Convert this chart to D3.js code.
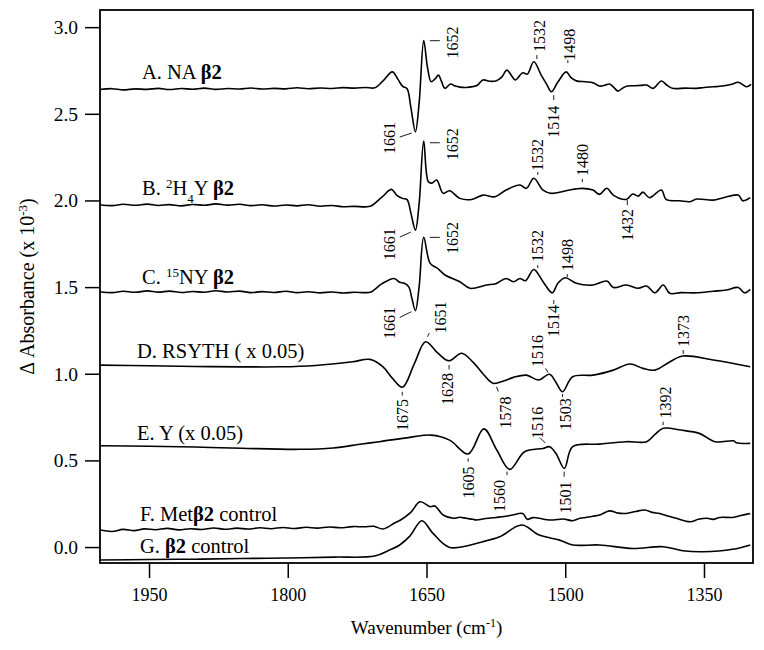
<!DOCTYPE html>
<html>
<head>
<meta charset="utf-8">
<script src="https://cdn.jsdelivr.net/npm/d3@7"></script>
<style>
body { margin: 0; background: #fff; }
svg { font-family: "Liberation Serif", "Times New Roman", serif; }
</style>
</head>
<body>
<div id="chart"></div>
<script>
// spectra, [wavenumber, dAbs x 10^-3]
const traceA = [[2003,2.640],[1990,2.645],[1978,2.638],[1965,2.644],[1952,2.641],[1940,2.647],[1928,2.640],[1915,2.646],[1903,2.642],[1890,2.648],[1878,2.641],[1865,2.646],[1852,2.643],[1840,2.649],[1828,2.643],[1815,2.647],[1802,2.644],[1790,2.650],[1778,2.645],[1765,2.649],[1752,2.646],[1740,2.651],[1728,2.648],[1716,2.652],[1706,2.650],
  [1697,2.690],[1687,2.742],[1681,2.700],[1676,2.660],[1671,2.645],[1667,2.540],[1662,2.396],[1658,2.560],[1653,2.922],[1649,2.770],[1645,2.685],[1641,2.700],[1637,2.723],[1634,2.690],[1630,2.647],[1624,2.672],[1619,2.660],[1614,2.654],[1607,2.652],[1600,2.657],[1595,2.665],[1589,2.695],[1582,2.688],[1575,2.689],[1569,2.710],[1563,2.752],[1558,2.720],[1554,2.695],[1546,2.737],[1541,2.729],[1534,2.800],[1526,2.723],[1520,2.670],[1515,2.627],[1508,2.683],[1499,2.742],[1494,2.710],[1488,2.690],[1478,2.685],[1470,2.679],[1463,2.660],[1457,2.665],[1452,2.672],[1448,2.655],[1443,2.631],[1438,2.648],[1433,2.660],[1425,2.662],[1418,2.664],[1412,2.666],[1405,2.647],[1396,2.689],[1390,2.665],[1384,2.647],[1370,2.648],[1358,2.647],[1350,2.652],[1340,2.656],[1330,2.660],[1320,2.670],[1313,2.682],[1308,2.668],[1304,2.656],[1299,2.670]];

const traceB = [[2003,1.975],[1990,1.970],[1978,1.978],[1965,1.972],[1952,1.979],[1940,1.971],[1928,1.976],[1915,1.969],[1903,1.977],[1890,1.972],[1878,1.980],[1865,1.973],[1852,1.978],[1840,1.970],[1828,1.975],[1815,1.968],[1802,1.974],[1790,1.969],[1778,1.975],[1765,1.967],[1752,1.971],[1740,1.964],[1728,1.966],[1716,1.963],[1710,1.968],
  [1698,2.020],[1688,2.064],[1682,2.030],[1676,2.012],[1671,2.005],[1667,1.930],[1662,1.829],[1658,1.980],[1653,2.343],[1648,2.108],[1644,2.100],[1639,2.118],[1632,2.041],[1625,2.056],[1614,2.012],[1601,2.006],[1589,2.031],[1576,2.021],[1564,2.060],[1549,2.089],[1542,2.070],[1534,2.128],[1524,2.060],[1515,2.041],[1499,2.056],[1482,2.070],[1470,2.060],[1463,2.035],[1455,2.070],[1448,2.031],[1434,2.006],[1427,2.037],[1421,2.025],[1416,2.048],[1409,2.016],[1396,2.060],[1391,2.006],[1376,1.998],[1365,1.993],[1358,2.008],[1340,2.002],[1329,2.016],[1313,2.031],[1308,1.998],[1300,2.016]];

const traceC = [[2003,1.473],[1990,1.468],[1978,1.476],[1965,1.470],[1952,1.478],[1940,1.471],[1928,1.477],[1915,1.469],[1903,1.475],[1890,1.470],[1878,1.479],[1865,1.472],[1852,1.477],[1840,1.468],[1828,1.474],[1815,1.469],[1802,1.476],[1790,1.468],[1778,1.473],[1765,1.467],[1752,1.472],[1740,1.466],[1728,1.470],[1716,1.468],[1710,1.472],
  [1698,1.520],[1685,1.550],[1679,1.528],[1674,1.522],[1669,1.500],[1666,1.440],[1662,1.364],[1658,1.500],[1653,1.787],[1646,1.637],[1638,1.608],[1630,1.570],[1614,1.531],[1603,1.493],[1585,1.512],[1575,1.520],[1564,1.550],[1556,1.531],[1549,1.550],[1543,1.537],[1534,1.602],[1524,1.531],[1514,1.467],[1508,1.522],[1500,1.554],[1488,1.522],[1470,1.512],[1455,1.535],[1448,1.498],[1434,1.512],[1421,1.493],[1412,1.506],[1403,1.467],[1394,1.512],[1387,1.464],[1375,1.468],[1358,1.467],[1340,1.476],[1326,1.483],[1313,1.498],[1306,1.467],[1300,1.487]];

const traceD = [[2003,1.050],[1950,1.046],[1900,1.042],[1850,1.040],[1808,1.040],[1770,1.048],[1730,1.069],[1711,1.083],[1697,1.040],[1687,0.975],[1676,0.922],[1663,1.060],[1651,1.185],[1638,1.120],[1626,1.075],[1612,1.118],[1600,1.069],[1589,1.000],[1578,0.945],[1566,0.960],[1556,0.979],[1542,0.992],[1529,0.964],[1517,0.997],[1510,0.950],[1503,0.896],[1492,0.983],[1470,0.992],[1448,1.021],[1430,1.056],[1416,1.031],[1403,1.021],[1388,1.065],[1373,1.102],[1340,1.079],[1300,1.040]];

const traceE = [[2003,0.585],[1950,0.582],[1900,0.577],[1850,0.570],[1787,0.564],[1751,0.572],[1720,0.595],[1701,0.608],[1668,0.633],[1645,0.646],[1625,0.617],[1605,0.537],[1588,0.682],[1574,0.560],[1560,0.448],[1544,0.550],[1524,0.569],[1517,0.579],[1510,0.540],[1501,0.454],[1492,0.579],[1463,0.594],[1434,0.608],[1412,0.608],[1403,0.650],[1394,0.685],[1375,0.675],[1355,0.656],[1338,0.608],[1318,0.613],[1315,0.602],[1300,0.598]];

const traceF = [[2003,0.098],[1990,0.090],[1978,0.102],[1966,0.095],[1955,0.105],[1943,0.100],[1930,0.108],[1918,0.099],[1905,0.106],[1893,0.101],[1880,0.110],[1868,0.103],[1855,0.109],[1843,0.104],[1830,0.111],[1818,0.106],[1805,0.113],[1793,0.107],[1780,0.114],[1768,0.109],[1755,0.116],[1743,0.111],[1730,0.118],[1717,0.117],[1707,0.120],[1697,0.104],[1684,0.140],[1678,0.156],[1667,0.200],[1657,0.261],[1646,0.233],[1641,0.237],[1632,0.185],[1621,0.166],[1614,0.172],[1607,0.166],[1600,0.160],[1596,0.156],[1586,0.165],[1575,0.171],[1566,0.176],[1557,0.185],[1546,0.194],[1541,0.160],[1535,0.170],[1528,0.166],[1520,0.158],[1513,0.156],[1502,0.162],[1492,0.152],[1484,0.166],[1478,0.171],[1470,0.178],[1463,0.185],[1452,0.209],[1443,0.196],[1434,0.194],[1424,0.205],[1414,0.214],[1406,0.200],[1398,0.194],[1388,0.178],[1380,0.166],[1365,0.146],[1356,0.160],[1347,0.166],[1340,0.160],[1333,0.171],[1319,0.171],[1310,0.182],[1300,0.194]];

const traceG = [[2003,-0.075],[1950,-0.072],[1900,-0.070],[1850,-0.066],[1800,-0.063],[1750,-0.058],[1706,-0.052],[1690,-0.017],[1679,0.012],[1668,0.063],[1655,0.152],[1643,0.079],[1625,-0.002],[1589,0.031],[1571,0.059],[1547,0.127],[1528,0.069],[1506,0.040],[1492,0.012],[1463,0.012],[1427,-0.008],[1394,0.002],[1373,-0.021],[1351,-0.027],[1319,-0.013],[1300,0.012]];

const traces = [traceA, traceB, traceC, traceD, traceE, traceF, traceG];

// peak annotations: label, text centre (wn, abs), leader from (wn, abs) to (wn, abs)
const peakLabels = [
  ["1661", 1689.7, 2.360, 1678.9, 2.366, 1666.0, 2.389],
  ["1652", 1622.1, 2.911, 1646.4, 2.922, 1635.6, 2.922],
  ["1532", 1528.0, 2.949, 1530.7, 2.839, 1530.7, 2.816],
  ["1498", 1495.0, 2.898, 1497.2, 2.810, 1497.2, 2.793],
  ["1514", 1512.4, 2.454, 1512.4, 2.608, 1512.4, 2.579],
  ["1661", 1689.7, 1.748, 1678.9, 1.789, 1667.0, 1.817],
  ["1652", 1622.1, 2.325, 1646.4, 2.333, 1635.6, 2.333],
  ["1532", 1529.7, 2.262, 1529.7, 2.164, 1529.7, 2.147],
  ["1480", 1481.5, 2.233, 1481.5, 2.124, 1481.5, 2.106],
  ["1432", 1432.9, 1.858, 1432.9, 2.002, 1432.9, 1.973],
  ["1661", 1689.7, 1.293, 1678.9, 1.325, 1666.3, 1.358],
  ["1652", 1622.1, 1.783, 1646.4, 1.787, 1635.6, 1.787],
  ["1532", 1529.7, 1.737, 1529.7, 1.627, 1529.7, 1.610],
  ["1498", 1497.8, 1.685, 1497.8, 1.575, 1497.8, 1.558],
  ["1514", 1512.4, 1.304, 1512.4, 1.425, 1512.4, 1.402],
  ["1651", 1634.5, 1.324, 1648.9, 1.214, 1647.0, 1.235],
  ["1675", 1676.2, 0.762, 1676.2, 0.896, 1676.2, 0.874],
  ["1628", 1627.5, 0.912, 1625.6, 1.050, 1625.6, 1.025],
  ["1578", 1564.5, 0.776, 1574.3, 0.925, 1572.4, 0.897],
  ["1516", 1530.2, 1.131, 1521.3, 1.031, 1518.5, 1.006],
  ["1503", 1499.4, 0.767, 1503.0, 0.883, 1503.0, 0.866],
  ["1373", 1371.8, 1.246, 1372.5, 1.137, 1372.5, 1.114],
  ["1516", 1530.2, 0.718, 1527.5, 0.632, 1521.5, 0.600],
  ["1392", 1391.2, 0.834, 1394.2, 0.723, 1394.2, 0.704],
  ["1605", 1604.3, 0.372, 1605.0, 0.512, 1605.0, 0.492],
  ["1560", 1570.8, 0.294, 1562.9, 0.435, 1562.9, 0.415],
  ["1501", 1499.4, 0.286, 1501.2, 0.435, 1501.2, 0.406]
];

const xTicks = [1950, 1800, 1650, 1500, 1350];
const yTicks = [0, 0.5, 1.0, 1.5, 2.0, 2.5, 3.0];

const width = 764, height = 650;
const margin = {left: 100, right: 11, top: 10, bottom: 87};

const x = d3.scaleLinear().domain([2003, 1297]).range([margin.left, width - margin.right]);
const y = d3.scaleLinear().domain([-0.092, 3.099]).range([height - margin.bottom, margin.top]);

const svg = d3.select("#chart").append("svg")
    .attr("width", width)
    .attr("height", height);

// axes, ticks outside the frame
const xAxis = svg.append("g")
    .attr("transform", `translate(0,${height - margin.bottom})`)
    .call(d3.axisBottom(x).tickValues(xTicks).tickSize(15).tickPadding(10).tickFormat(d3.format("d")));

const yAxis = svg.append("g")
    .attr("transform", `translate(${margin.left},0)`)
    .call(d3.axisLeft(y).tickValues(yTicks).tickSize(15).tickPadding(7).tickFormat(d3.format(".1f")));

svg.selectAll(".domain").remove();
svg.selectAll(".tick line").attr("stroke", "#000").attr("stroke-width", 1.5);
xAxis.selectAll(".tick text").style("font-size", "18px").attr("fill", "#000")
    .style("font-family", "'Liberation Serif', serif");
yAxis.selectAll(".tick text").style("font-size", "19.5px").attr("fill", "#000")
    .style("font-family", "'Liberation Serif', serif");

// frame
svg.append("rect")
    .attr("x", margin.left)
    .attr("y", margin.top)
    .attr("width", width - margin.left - margin.right)
    .attr("height", height - margin.top - margin.bottom)
    .attr("fill", "none")
    .attr("stroke", "#000")
    .attr("stroke-width", 1.8);

const line = d3.line()
    .x(d => x(d[0]))
    .y(d => y(d[1]))
    .curve(d3.curveCatmullRom.alpha(0.5));

svg.append("g")
    .selectAll("path")
    .data(traces)
    .join("path")
    .attr("d", line)
    .attr("fill", "none")
    .attr("stroke", "#000")
    .attr("stroke-width", 1.6);

// peak leaders + labels
const ann = svg.append("g");
ann.selectAll("line")
    .data(peakLabels)
    .join("line")
    .attr("x1", d => x(d[3]))
    .attr("y1", d => y(d[4]))
    .attr("x2", d => x(d[5]))
    .attr("y2", d => y(d[6]))
    .attr("stroke", "#000")
    .attr("stroke-width", 0.9);

ann.selectAll("text")
    .data(peakLabels)
    .join("text")
    .attr("transform", d => `translate(${x(d[1])},${y(d[2])}) rotate(-90)`)
    .attr("text-anchor", "middle")
    .attr("dy", "0.35em")
    .style("font-size", "16px")
    .text(d => d[0]);

// trace names
const names = svg.append("g").style("font-size", "20.5px");

function addName(px, py, parts) {
    const t = names.append("text").attr("x", px).attr("y", py);
    parts.forEach(p => {
        const s = t.append("tspan").text(p.t);
        if (p.b) s.style("font-weight", "bold");
        if (p.sup) s.attr("baseline-shift", "super").style("font-size", "13px");
        if (p.sub) s.attr("baseline-shift", "sub").style("font-size", "13px");
    });
}

addName(142, y(2.646) - 10, [{t: "A. NA "}, {t: "β2", b: true}]);
addName(142, y(1.973) - 10, [{t: "B. "}, {t: "2", sup: true}, {t: "H"}, {t: "4", sub: true}, {t: "Y "}, {t: "β2", b: true}]);
addName(142, y(1.473) - 8, [{t: "C. "}, {t: "15", sup: true}, {t: "NY "}, {t: "β2", b: true}]);
addName(137, y(1.050) - 7, [{t: "D. RSYTH ( x 0.05)"}]);
addName(137, y(0.585) - 6, [{t: "E. Y (x 0.05)"}]);
addName(140, y(0.098) - 9, [{t: "F. Met"}, {t: "β2", b: true}, {t: " control"}]);
addName(140, y(-0.075) - 7, [{t: "G. "}, {t: "β2", b: true}, {t: " control"}]);

// axis titles
const xt = svg.append("text")
    .attr("x", (margin.left + width - margin.right) / 2)
    .attr("y", 634)
    .attr("text-anchor", "middle")
    .style("font-size", "19px");
xt.append("tspan").text("Wavenumber (cm");
xt.append("tspan").text("-1").attr("baseline-shift", "super").style("font-size", "12px");
xt.append("tspan").text(")");

const yt = svg.append("text")
    .attr("transform", `translate(34,${(margin.top + height - margin.bottom) / 2}) rotate(-90)`)
    .attr("text-anchor", "middle")
    .style("font-size", "20px");
yt.append("tspan").text("Δ Absorbance (x 10");
yt.append("tspan").text("-3").attr("baseline-shift", "super").style("font-size", "13px");
yt.append("tspan").text(")");
</script>
</body>
</html>
